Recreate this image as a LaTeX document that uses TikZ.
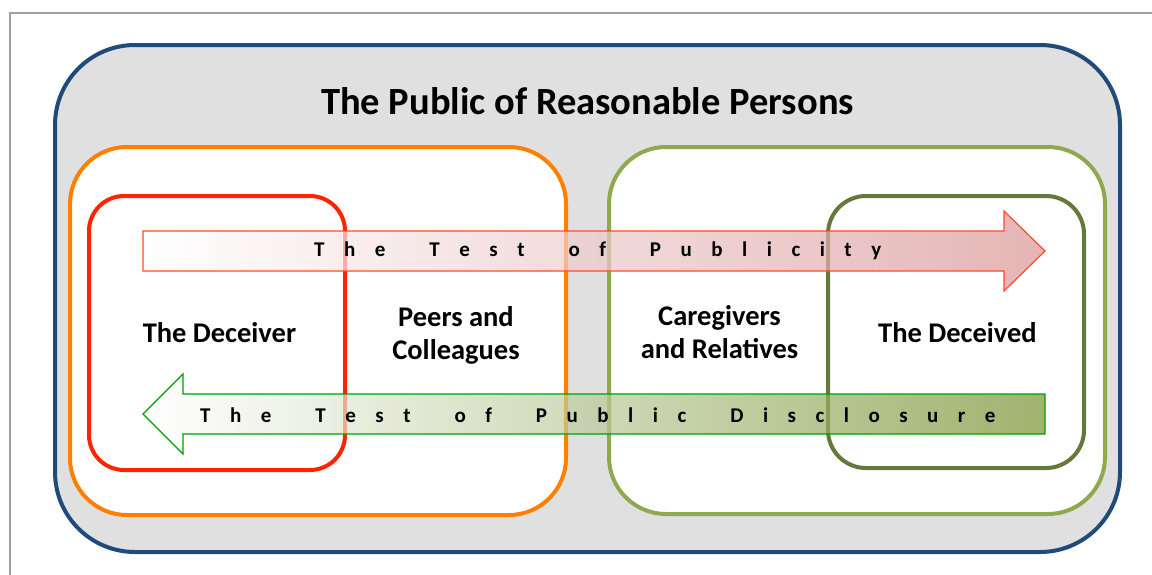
\documentclass[tikz,border=0pt]{standalone}
\usepackage{fontspec}
\setmainfont{Carlito}
\definecolor{frameGray}{HTML}{A0A0A0}
\definecolor{outerBlue}{HTML}{1F4A7A}
\definecolor{bgGray}{HTML}{E0E0E0}
\definecolor{boxOrange}{HTML}{FF8000}
\definecolor{boxRed}{HTML}{FF2400}
\definecolor{boxLightGreen}{HTML}{8FAA4E}
\definecolor{boxOlive}{HTML}{64783A}
\definecolor{arrowRedLine}{HTML}{FF4A2A}
\definecolor{arrowRedFill}{RGB}{219,150,150}
\definecolor{arrowGreenLine}{HTML}{00A000}
\definecolor{arrowGreenFill}{RGB}{120,148,50}
\newcommand\gapL{\hspace{19.5pt}}
\newcommand\gapW{\hspace{44pt}}
\tikzset{
  boxline/.style={line width=4pt},
  boxlabel/.style={font=\fontsize{28.5}{33}\selectfont\bfseries, inner sep=0pt, align=center},
  arrowtext/.style={font=\fontsize{21}{25}\selectfont\bfseries, inner sep=0pt, anchor=base west},
}
\begin{document}
\begin{tikzpicture}[x=1pt,y=-1pt]
\useasboundingbox (0,0) rectangle (1152,574);
% outer page frame
\draw[frameGray, line width=1.5pt] (10,580) -- (10,13) -- (1160,13);
% public box
\draw[outerBlue, fill=bgGray, line width=4pt, rounded corners=80pt] (55,45) rectangle (1120,552);
% group boxes
\draw[boxOrange, fill=white, boxline, rounded corners=57pt] (70,147) rectangle (566,515);
\draw[boxLightGreen, fill=white, boxline, rounded corners=57pt] (609,147) rectangle (1105,514);
\draw[boxRed, boxline, rounded corners=35pt] (89,196) rectangle (345,470);
\draw[boxOlive, boxline, rounded corners=38pt] (828,196) rectangle (1084,468);
% labels
\node[font=\fontsize{38.5}{44}\selectfont\bfseries, inner sep=0pt, anchor=base] (title) at (587.5,114) {The Public of Reasonable Persons};
\node[boxlabel, anchor=base] (deceiver) at (219.5,342) {The Deceiver};
\node[boxlabel] (peers) at (456,335.5) {Peers and\\Colleagues};
\node[boxlabel] (caregivers) at (719.5,332.5) {Caregivers\\and Relatives};
\node[boxlabel, anchor=base] (deceived) at (957.5,342) {The Deceived};
% arrows
\shade[left color=white, right color=arrowRedFill, fill opacity=0.7]
  (143,231) -- (1004,231) -- (1004,211) -- (1045,251) -- (1004,291) -- (1004,271) -- (143,271) -- cycle;
\draw[arrowRedLine, line width=1.2pt, line join=miter]
  (143,231) -- (1004,231) -- (1004,211) -- (1045,251) -- (1004,291) -- (1004,271) -- (143,271) -- cycle;
\shade[left color=white, right color=arrowGreenFill, fill opacity=0.7]
  (143,414) -- (183,374) -- (183,394) -- (1045,394) -- (1045,434) -- (183,434) -- (183,454) -- cycle;
\draw[arrowGreenLine, line width=1.2pt, line join=miter]
  (143,414) -- (183,374) -- (183,394) -- (1045,394) -- (1045,434) -- (183,434) -- (183,454) -- cycle;
\node[arrowtext] (publicity) at (314,256.5) {T\gapL h\gapL e\gapW T\gapL e\gapL s\gapL t\gapW o\gapL f\gapW P\gapL u\gapL b\gapL l\gapL i\gapL c\gapL i\gapL t\gapL y};
\node[arrowtext] (disclosure) at (200,422) {T\gapL h\gapL e\gapW T\gapL e\gapL s\gapL t\gapW o\gapL f\gapW P\gapL u\gapL b\gapL l\gapL i\gapL c\gapW D\gapL i\gapL s\gapL c\gapL l\gapL o\gapL s\gapL u\gapL r\gapL e};
\end{tikzpicture}
\end{document}
